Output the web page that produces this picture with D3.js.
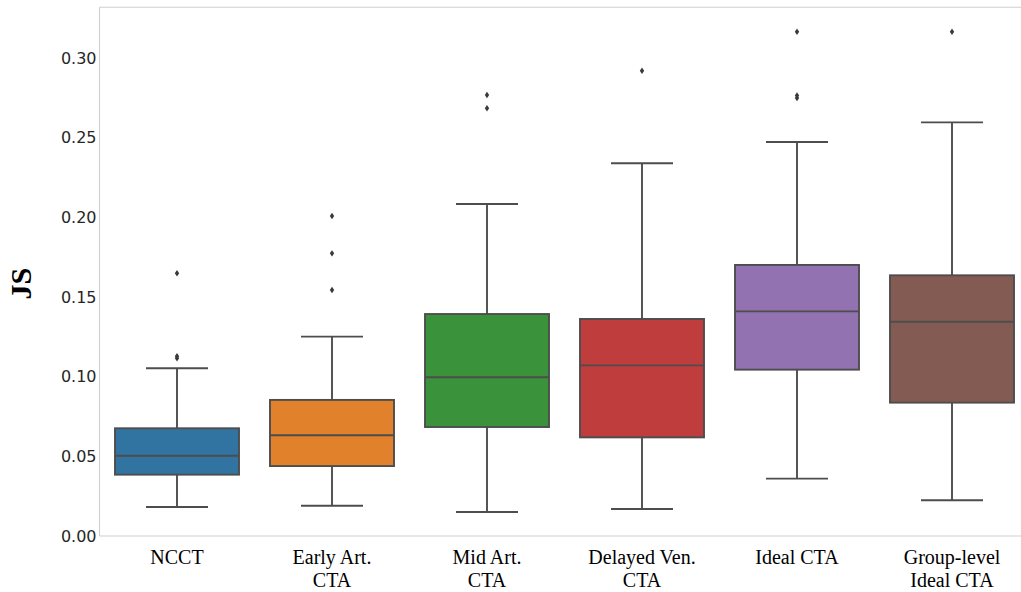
<!DOCTYPE html>
<html>
<head>
<meta charset="utf-8">
<script src="https://cdn.jsdelivr.net/npm/d3@7"></script>
<style>
  html, body { margin: 0; padding: 0; background: #fff; }
  svg { display: block; }
</style>
</head>
<body>
<svg id="chart" width="1021" height="592"></svg>
<script>
// Box-plot summary of JS per acquisition type
const categories = ["NCCT", "Early Art.\nCTA", "Mid Art.\nCTA", "Delayed Ven.\nCTA", "Ideal CTA", "Group-level\nIdeal CTA"];
const whiskerLow  = [0.0182, 0.0190, 0.0151, 0.0169, 0.0360, 0.0224];
const q1          = [0.0385, 0.0439, 0.0684, 0.0619, 0.1044, 0.0837];
const median      = [0.0504, 0.0632, 0.0996, 0.1071, 0.1410, 0.1345];
const q3          = [0.0676, 0.0854, 0.1393, 0.1362, 0.1701, 0.1636];
const whiskerHigh = [0.1053, 0.1251, 0.2084, 0.2339, 0.2473, 0.2596];
const outliers = [
  [0.1115, 0.1128, 0.1649],
  [0.1544, 0.1774, 0.2008],
  [0.2684, 0.2768],
  [0.2920],
  [0.2749, 0.2765, 0.3165],
  [0.3165]
];
const colors = ["#3274a1", "#e1812c", "#3a923a", "#c03d3e", "#9372b2", "#845b53"];
const yTicks = [0.00, 0.05, 0.10, 0.15, 0.20, 0.25, 0.30];
const yLabel = "JS";

const svg = d3.select("#chart");
const plotLeft = 99.5, plotRight = 1029.5, plotTop = 7.3, plotBottom = 536;

const x = d3.scaleBand().domain(categories).range([plotLeft, plotRight]).paddingInner(0).paddingOuter(0);
const y = d3.scaleLinear().domain([0, 0.3318]).range([plotBottom, plotTop]);

const lineColor = "#4d4d4d";
const boxW = x.bandwidth() * 0.8;
const capW = boxW * 0.5;

// spines
const spine = svg.append("g").attr("stroke", "#cfcfcf").attr("stroke-width", 1.1).attr("fill", "none");
spine.append("line").attr("x1", plotLeft).attr("x2", plotLeft).attr("y1", plotTop).attr("y2", plotBottom);
spine.append("line").attr("x1", plotLeft).attr("x2", plotRight).attr("y1", plotTop).attr("y2", plotTop);
spine.append("line").attr("x1", plotLeft).attr("x2", plotRight).attr("y1", plotBottom).attr("y2", plotBottom);
spine.append("line").attr("x1", plotRight).attr("x2", plotRight).attr("y1", plotTop).attr("y2", plotBottom);

// y axis
const yAxis = svg.append("g")
  .attr("transform", `translate(${plotLeft},0)`)
  .call(d3.axisLeft(y).tickValues(yTicks).tickFormat(d3.format(".2f")).tickSize(0).tickPadding(3));
yAxis.select(".domain").remove();
yAxis.selectAll("text")
  .attr("fill", "#262626")
  .style("font-family", "'DejaVu Sans', sans-serif")
  .style("font-size", "16px");

// x axis labels
const xAxis = svg.append("g")
  .attr("transform", `translate(0,${plotBottom})`)
  .call(d3.axisBottom(x).tickSize(0).tickFormat(""));
xAxis.select(".domain").remove();
xAxis.selectAll(".tick").each(function(d) {
  const t = d3.select(this).append("text")
    .attr("text-anchor", "middle")
    .attr("fill", "#000")
    .style("font-family", "'Liberation Serif', 'Times New Roman', serif")
    .style("font-size", "20px");
  d.split("\n").forEach((line, i) => {
    t.append("tspan").attr("x", 0).attr("y", 28 + i * 23).text(line);
  });
});

// y label
svg.append("text")
  .attr("transform", `translate(31,${(plotTop + plotBottom) / 2 + 12}) rotate(-90)`)
  .attr("text-anchor", "middle")
  .style("font-family", "'Liberation Serif', 'Times New Roman', serif")
  .style("font-weight", "bold")
  .style("font-size", "30px")
  .attr("fill", "#000")
  .text(yLabel);

// boxes
const g = svg.append("g");
categories.forEach((c, i) => {
  const cx = x(c) + x.bandwidth() / 2;
  const grp = g.append("g").attr("stroke", lineColor).attr("stroke-width", 1.9);
  // whiskers
  grp.append("line").attr("x1", cx).attr("x2", cx).attr("y1", y(q3[i])).attr("y2", y(whiskerHigh[i]));
  grp.append("line").attr("x1", cx).attr("x2", cx).attr("y1", y(q1[i])).attr("y2", y(whiskerLow[i]));
  grp.append("line").attr("x1", cx - capW / 2).attr("x2", cx + capW / 2).attr("y1", y(whiskerHigh[i])).attr("y2", y(whiskerHigh[i]));
  grp.append("line").attr("x1", cx - capW / 2).attr("x2", cx + capW / 2).attr("y1", y(whiskerLow[i])).attr("y2", y(whiskerLow[i]));
  // box
  grp.append("rect")
    .attr("x", cx - boxW / 2).attr("width", boxW)
    .attr("y", y(q3[i])).attr("height", y(q1[i]) - y(q3[i]))
    .attr("fill", colors[i]);
  // median
  grp.append("line").attr("x1", cx - boxW / 2).attr("x2", cx + boxW / 2).attr("y1", y(median[i])).attr("y2", y(median[i]));
  // outliers as thin diamonds
  grp.selectAll("path.out").data(outliers[i]).join("path")
    .attr("class", "out")
    .attr("d", v => `M${cx},${y(v) - 3.2}L${cx + 2.2},${y(v)}L${cx},${y(v) + 3.2}L${cx - 2.2},${y(v)}Z`)
    .attr("fill", "#3a3a3a").attr("stroke", "none");
});
</script>
</body>
</html>
